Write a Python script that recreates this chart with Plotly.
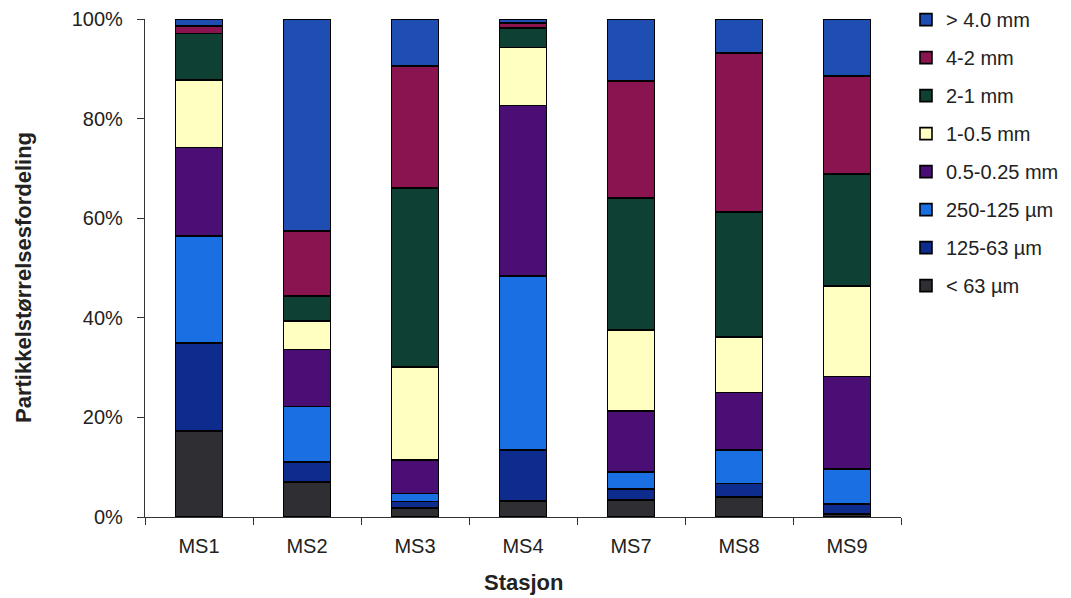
import plotly.graph_objects as go

stations = ["MS1", "MS2", "MS3", "MS4", "MS7", "MS8", "MS9"]

# Percent of each size fraction per station (bottom to top of stack)
lt63 = [17.3, 7.0, 1.8, 3.2, 3.4, 4.0, 0.6]
s125_63 = [17.6, 4.1, 1.3, 10.2, 2.2, 2.7, 2.0]
s250_125 = [21.5, 11.1, 1.6, 35.0, 3.4, 6.8, 7.0]
s05_025 = [17.8, 11.4, 6.7, 34.2, 12.3, 11.5, 18.6]
s1_05 = [13.6, 5.8, 18.7, 11.7, 16.3, 11.2, 18.2]
s2_1 = [9.3, 5.0, 36.0, 3.9, 26.5, 25.1, 22.5]
s4_2 = [1.5, 13.0, 24.5, 1.0, 23.5, 31.9, 19.6]
gt4 = [1.4, 42.6, 9.4, 0.8, 12.4, 6.8, 11.5]

series_names = ["< 63 µm", "125-63 µm", "250-125 µm", "0.5-0.25 mm",
                "1-0.5 mm", "2-1 mm", "4-2 mm", "> 4.0 mm"]
series_values = [lt63, s125_63, s250_125, s05_025, s1_05, s2_1, s4_2, gt4]
series_colors = ["#2E2E33", "#0D2C8E", "#1A70E2", "#4B0E74",
                 "#FFFFC2", "#0E4034", "#8A1450", "#1E4EB2"]

y_ticks = [0, 20, 40, 60, 80, 100]
y_ticktext = ["0%", "20%", "40%", "60%", "80%", "100%"]

FONT = "Liberation Sans, Arial, sans-serif"

fig = go.Figure()
n = len(series_names)
for i, (name, vals, col) in enumerate(zip(series_names, series_values, series_colors)):
    fig.add_trace(go.Bar(
        x=stations, y=vals, name=name, legendgroup=name,
        legendrank=n - i,
        marker=dict(color=col, line=dict(color="#000000", width=1.6)),
    ))

fig.update_layout(
    barmode="stack",
    bargap=0.565,
    width=1071, height=598,
    margin=dict(l=145, r=170, t=19, b=81, autoexpand=False),
    paper_bgcolor="white", plot_bgcolor="white",
    font=dict(family=FONT, size=20, color="#222222"),
    showlegend=True,
    legend=dict(
        x=1.0066, xanchor="left",
        y=1.038, yanchor="top",
        traceorder="grouped", tracegroupgap=9,
        maxheight=598,
        font=dict(family=FONT, size=20, color="#222222"),
        bgcolor="rgba(0,0,0,0)",
    ),
    xaxis=dict(
        showline=True, linecolor="#333333", linewidth=1.2,
        ticks="outside", ticklen=7, tickcolor="#333333", tickson="boundaries",
        ticklabelstandoff=11,
        showgrid=False, zeroline=False,
        tickfont=dict(family=FONT, size=20, color="#222222"),
    ),
    yaxis=dict(
        range=[0, 100], tickvals=y_ticks, ticktext=y_ticktext,
        showline=True, linecolor="#333333", linewidth=1.2,
        ticks="outside", ticklen=7, tickcolor="#333333",
        ticklabelstandoff=10,
        showgrid=False, zeroline=False,
        tickfont=dict(family=FONT, size=20, color="#222222"),
    ),
    annotations=[
        dict(text="<b>Partikkelstørrelsesfordeling</b>", xref="paper", yref="paper",
             x=0, y=0.48, xanchor="center", yanchor="middle", xshift=-121,
             textangle=-90, showarrow=False,
             font=dict(family=FONT, size=22, color="#222222")),
        dict(text="<b>Stasjon</b>", xref="paper", yref="paper",
             x=0.5, y=0, xanchor="center", yanchor="middle", yshift=-65,
             showarrow=False,
             font=dict(family=FONT, size=22, color="#222222")),
    ],
)

fig.write_html("out.html", config={"displayModeBar": False},
               post_script="document.body.style.margin='0px';")
